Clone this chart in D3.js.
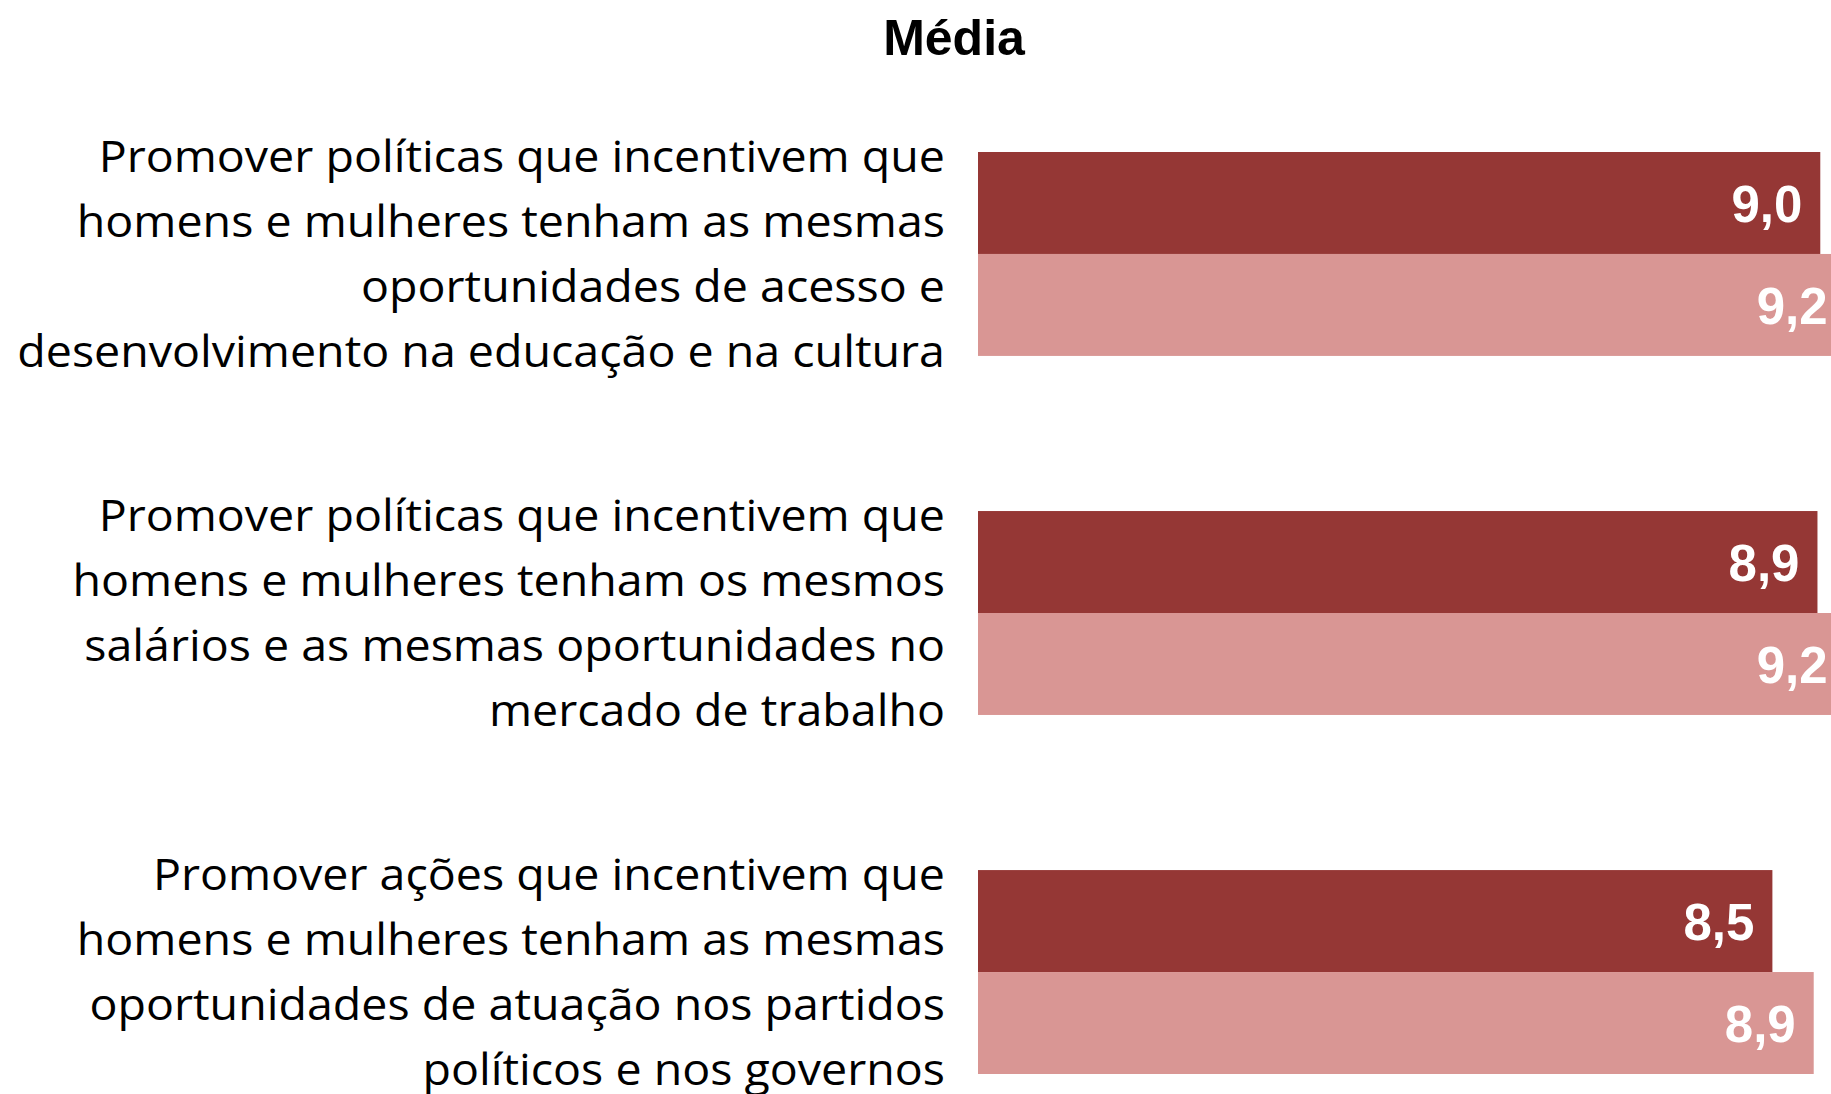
<!DOCTYPE html>
<html>
<head>
<meta charset="utf-8">
<script src="https://cdn.jsdelivr.net/npm/d3@7"></script>
<style>
  html, body { margin: 0; padding: 0; background: #ffffff; }
  svg { display: block; }
</style>
</head>
<body>
<svg id="chart" width="1831" height="1094"></svg>
<script>
// ---- data ----
const title = "Média";
const categories = ["c1", "c2", "c3"];
const categoryLines = [
  ["Promover políticas que incentivem que", "homens e mulheres tenham as mesmas", "oportunidades de acesso e", "desenvolvimento na educação e na cultura"],
  ["Promover políticas que incentivem que", "homens e mulheres tenham os mesmos", "salários e as mesmas oportunidades no", "mercado de trabalho"],
  ["Promover ações que incentivem que", "homens e mulheres tenham as mesmas", "oportunidades de atuação nos partidos", "políticos e nos governos"]
];
const seriesNames = ["s1", "s2"];
const seriesColors = ["#953735", "#D99694"];
const series1 = [8.97, 8.94, 8.46];
const series2 = [9.24, 9.24, 8.90];

// ---- layout ----
const W = 1831, H = 1094;
const plotLeft = 978;
const svg = d3.select("#chart");

const x = d3.scaleLinear().domain([0, 10]).range([plotLeft, plotLeft + 939]);
const y = d3.scaleBand().domain(categories).range([152, 1074]).paddingInner(0.432).paddingOuter(0);
const ySub = d3.scaleBand().domain(seriesNames).range([0, y.bandwidth()]).padding(0);
const fmt = v => d3.format(".1f")(v).replace(".", ",");

const rows = categories.map((c, i) => ({ cat: c, vals: [series1[i], series2[i]] }));

// title
svg.append("text")
  .attr("x", 954).attr("y", 55)
  .attr("text-anchor", "middle")
  .attr("font-family", "'Liberation Sans', Arial, sans-serif")
  .attr("font-weight", "bold")
  .attr("font-size", 50)
  .attr("fill", "#000")
  .text(title);

// bars
const groups = svg.append("g").selectAll("g.grp").data(rows).join("g")
  .attr("class", "grp")
  .attr("transform", d => `translate(0,${y(d.cat)})`);

groups.selectAll("rect").data(d => d.vals.map((v, j) => ({ v, s: seriesNames[j], j })))
  .join("rect")
  .attr("x", x(0))
  .attr("y", d => ySub(d.s))
  .attr("width", d => x(d.v) - x(0))
  .attr("height", ySub.bandwidth())
  .attr("fill", d => seriesColors[d.j]);

groups.selectAll("text.val").data(d => d.vals.map((v, j) => ({ v, s: seriesNames[j], j })))
  .join("text")
  .attr("class", "val")
  .attr("x", d => x(d.v) - 18)
  .attr("y", d => ySub(d.s) + ySub.bandwidth() / 2 + 19)
  .attr("text-anchor", "end")
  .attr("font-family", "'Liberation Sans', Arial, sans-serif")
  .attr("font-weight", "bold")
  .attr("font-size", 51)
  .attr("fill", "#ffffff")
  .text(d => fmt(d.v));

// category labels
const labelRight = 945;
const lineGap = 65;
const labelTexts = [];
rows.forEach((d, i) => {
  const center = y(d.cat) + y.bandwidth() / 2;
  categoryLines[i].forEach((line, k) => {
    const t = svg.append("text")
      .attr("text-anchor", "end")
      .attr("font-family", "'Open Sans', 'Noto Sans', sans-serif")
      .attr("font-size", 43)
      .attr("fill", "#000")
      .attr("data-y", center - 82 + lineGap * k)
      .text(line);
    labelTexts.push(t);
  });
});
let maxW = 0;
labelTexts.forEach(t => { maxW = Math.max(maxW, t.node().getComputedTextLength()); });
const sx = maxW > 0 ? 928 / maxW : 1;
labelTexts.forEach(t => {
  t.attr("transform", `translate(${labelRight},${t.attr("data-y")}) scale(${sx},1)`);
});
</script>
</body>
</html>
